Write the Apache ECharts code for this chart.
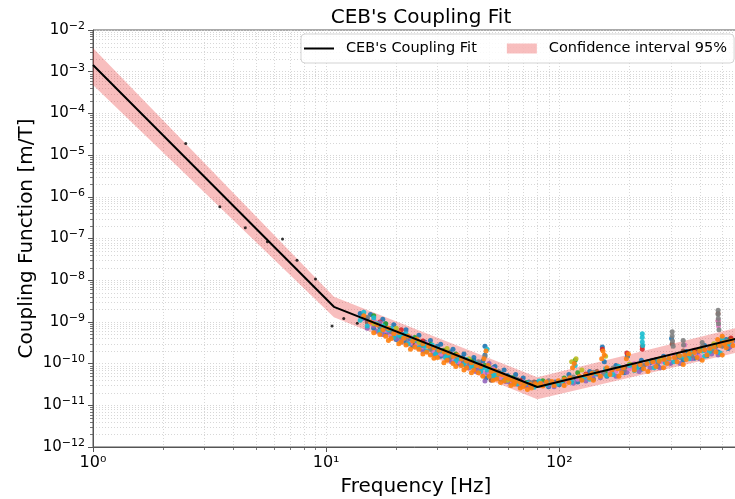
<!DOCTYPE html>
<html><head><meta charset="utf-8">
<script src="https://cdn.jsdelivr.net/npm/echarts@6/dist/echarts.min.js"></script>
<style>html,body{margin:0;padding:0;background:#fff}#c{width:735px;height:499px}</style>
</head><body><div id="c"></div>
<script>
// ---- data ----
const fitFreq = [1, 10.8, 80.5, 590];
const fitValue = [1.45e-3, 2.3e-9, 2.75e-11, 4.1e-10];
const bandFreq = [1, 10.8, 80.5, 590];
const bandUpper = [3.7e-3, 4.0e-9, 4.7e-11, 7.4e-10];
const bandLower = [4.8e-4, 1.3e-9, 1.4e-11, 1.9e-10];

const blackPoints = [[2.5,1.9e-5],[3.5,5.8e-7],[4.5,1.8e-7],[5.6,8.3e-8],[6.5,9.7e-8],[7.5,3e-8],[9,1.07e-8],[10.6,8e-10],[11.9,1.2e-9],[13.6,9.3e-10]];

const orangePoints = [[14.5,1.4e-9],[15.5,1.0e-9],[16.5,8.5e-10],[17.5,6.5e-10],[18.5,7e-10],[19.5,5.2e-10],[20.5,5.6e-10],[21.5,4.1e-10],[22.5,4.6e-10],[23.5,3.5e-10],[24.5,3.9e-10],[26,3e-10],[27.5,2.6e-10],[29,2.4e-10],[30.5,2.1e-10],[32,1.9e-10],[33.5,1.8e-10],[35,1.5e-10],[36.5,1.6e-10],[38,1.3e-10],[40,1.15e-10],[42,1.05e-10],[44,9e-11],[46,8.5e-11],[47.5,1.3e-10],[48.5,2e-10],[49.5,9e-11],[51,6.5e-11],[53,6.8e-11],[55,5.6e-11],[57,5.4e-11],[59,4.6e-11],[61,4.4e-11],[63,4e-11],[65,3.7e-11],[68,3.5e-11],[71,3.3e-11],[75,3.2e-11],[79,3.3e-11],[83,3.4e-11],[88,3.6e-11],[93,3.7e-11],[99,3.9e-11],[105,4.2e-11],[111,4.6e-11],[114,8e-11],[116,1e-10],[122,5e-11],[130,5.3e-11],[138,5.8e-11],[146,6e-11],[152,1.3e-10],[154,2e-10],[156,1.6e-10],[160,8e-11],[168,7e-11],[178,7.5e-11],[188,8e-11],[194,1.3e-10],[198,1.7e-10],[210,8.8e-11],[222,9.5e-11],[238,1e-10],[252,1.1e-10],[268,1.15e-10],[282,1.25e-10],[296,1.35e-10],[312,1.4e-10],[328,1.55e-10],[345,1.6e-10],[362,1.75e-10],[380,1.85e-10],[400,2e-10],[420,2.15e-10],[442,2.3e-10],[462,2.5e-10],[478,3.8e-10],[486,2.7e-10],[500,4.5e-10],[506,3.2e-10],[512,2.9e-10],[530,3.3e-10],[550,3.6e-10],
  [17,5e-10],[18,4.5e-10],[19,4e-10],[21,3.3e-10],[22,2.8e-10],[24,2.5e-10],[25,2.2e-10],[27,1.9e-10],[28,1.6e-10],[30,1.4e-10],[33,1.2e-10],[35,1e-10],[38,9e-11],[40,8e-11],[43,7e-11],[45,6e-11],[50,5e-11],[54,4.3e-11],[58,3.8e-11],[64,3.2e-11],[70,2.8e-11],[76,2.6e-11],[85,2.9e-11],[95,3e-11],[110,3.5e-11],[125,4e-11],[135,4.5e-11],[150,5e-11],[165,5.5e-11],[185,6e-11],[210,7e-11],[230,7.5e-11],[260,8.5e-11],[290,1e-10],[320,1.1e-10],[350,1.25e-10],[390,1.4e-10],[430,1.6e-10],[470,1.9e-10],[520,2.4e-10],[556,2.7e-10],
  [16,5.5e-10],[18.5,3.6e-10],[20.5,3e-10],[23,2.2e-10],[26,1.7e-10],[29,1.35e-10],[32,1.05e-10],[36,8.5e-11],[39,7e-11],[42,6e-11],[47,5e-11],[52,4e-11],[56,3.5e-11],[62,3e-11],[68,2.6e-11],[73,2.4e-11],[105,3e-11],[140,4e-11],[180,5e-11],[240,6.5e-11],[280,8e-11],[340,9.5e-11],[410,1.2e-10],[500,1.6e-10]];
const bluePoints = [[14,1.6e-9],[15,1.2e-9],[16,1.1e-9],[17,7.5e-10],[18,9e-10],[19,6e-10],[20,4.5e-10],[21.5,5e-10],[23,3.8e-10],[24.5,3.3e-10],[26.5,3.3e-10],[28,2.5e-10],[30,2.6e-10],[32,1.7e-10],[34,1.9e-10],[36,1.35e-10],[38.5,1.4e-10],[41,1e-10],[43,1.2e-10],[45.5,9.5e-11],[48,2.6e-10],[48,1.6e-10],[48.5,4.5e-11],[50,7e-11],[52,8e-11],[54,6e-11],[57,4.8e-11],[60,5.2e-11],[64,4.2e-11],[69,3.5e-11],[74,3.6e-11],[80,3.5e-11],[87,3.3e-11],[96,3.6e-11],[106,4e-11],[118,4.4e-11],[132,5e-11],[145,5.6e-11],[153,2.5e-10],[156,1.1e-10],[170,7.2e-11],[186,8e-11],[196,1.5e-10],[215,8.5e-11],[245,1.05e-10],[275,1.2e-10],[303,4e-10],[320,1.45e-10],[355,1.65e-10],[392,1.9e-10],[415,2.5e-10],[440,2.3e-10],[470,2.6e-10],[495,3e-10],[525,3.2e-10],[555,3.5e-10],
  [16,7e-10],[18,5.5e-10],[20,3.8e-10],[22,3.2e-10],[23.5,2.7e-10],[26,2.2e-10],[29,1.8e-10],[31,1.5e-10],[34,1.25e-10],[37,1.05e-10],[40,9e-11],[44,7.5e-11],[50,5.5e-11],[56,4.2e-11],[62,3.5e-11],[72,3e-11],[90,2.8e-11],[100,3.1e-11],[120,3.6e-11],[140,4.3e-11],[160,5e-11],[190,6e-11],[225,7.3e-11],[265,8.5e-11],[300,1.05e-10],[340,1.2e-10],[380,1.35e-10],[430,1.55e-10],[480,1.9e-10],[530,2.3e-10],
  [15.5,1.5e-9],[17.5,1.15e-9],[19.5,8.5e-10],[22,6.5e-10],[25,4.8e-10],[28,3.6e-10],[31,2.9e-10],[35,2.2e-10],[39,1.7e-10],[43,1.4e-10],[47,1.15e-10],[53,8.5e-11],[58,7e-11],[65,5.5e-11],[70,4.5e-11],[110,5.5e-11],[135,6.5e-11],[175,9e-11],[225,1.2e-10],[280,1.5e-10],[350,1.95e-10],[420,2.7e-10],[520,3.8e-10]];
const cyanPoints = [[14.5,1.7e-9],[16,1.25e-9],[17.5,8e-10],[19,7e-10],[20.5,4.8e-10],[22,5.2e-10],[24,3.6e-10],[26,2.9e-10],[28.5,2.8e-10],[31,2e-10],[34,1.6e-10],[37,1.45e-10],[40,1.25e-10],[44,1e-10],[47,8e-11],[49,2.2e-10],[52,6e-11],[56,5.8e-11],[61,4.8e-11],[67,3.8e-11],[73,3.4e-11],[82,3.8e-11],[92,3.4e-11],[103,3.8e-11],[117,9e-11],[128,4.8e-11],[143,5.8e-11],[158,7.5e-11],[180,8.5e-11],[200,9e-11],[227,5.2e-10],[227,4.2e-10],[227,3.3e-10],[228,2.7e-10],[240,1.1e-10],[265,1.2e-10],[295,1.3e-10],[330,1.5e-10],[370,1.8e-10],[410,2e-10],[455,2.4e-10],[500,3.9e-10],[540,3.4e-10],
  [15,8e-10],[17,6e-10],[19.5,4.2e-10],[22.5,3e-10],[25,2.4e-10],[27,2e-10],[29.5,1.7e-10],[32.5,1.4e-10],[36,1.15e-10],[39,9.5e-11],[42,8.5e-11],[46,6.5e-11],[52,4.8e-11],[58,4e-11],[66,3.3e-11],[78,2.7e-11],[98,3.3e-11],[113,3.6e-11],[135,4.2e-11],[170,5.5e-11],[210,6.8e-11],[255,8e-11],[310,1.1e-10],[360,1.3e-10],[420,1.5e-10],[490,1.8e-10],
  [14,1.1e-9],[16.5,9e-10],[18.5,6.5e-10],[21,4.8e-10],[23.5,3.9e-10],[26.5,2.6e-10],[30,2.3e-10],[33,1.6e-10],[37.5,1.3e-10],[43,9e-11],[49,7e-11],[54,5.4e-11],[63,4.3e-11],[71,3.3e-11],[88,3.1e-11],[125,4.1e-11],[160,5.2e-11],[215,8e-11],[285,1.05e-10],[345,1.35e-10],[440,1.9e-10],[530,2.9e-10]];
const purplePoints = [[14.5,1.2e-9],[16,8e-10],[17,9.5e-10],[18.5,5.5e-10],[20,6e-10],[21,3.6e-10],[23,4.2e-10],[25,2.7e-10],[27,2.8e-10],[30,1.9e-10],[33,1.6e-10],[36,1.25e-10],[39,1.2e-10],[42,9e-11],[46,7.5e-11],[48,3.8e-11],[50,1e-10],[53,5.6e-11],[58,4.5e-11],[62,3.9e-11],[66,3.2e-11],[72,3e-11],[77,3e-11],[85,3.2e-11],[95,3.4e-11],[110,4.1e-11],[125,4.6e-11],[140,5.2e-11],[165,6.8e-11],[185,7e-11],[205,8.5e-11],[235,9.5e-11],[260,1.1e-10],[290,1.2e-10],[315,1.3e-10],[350,1.55e-10],[390,1.75e-10],[425,2e-10],[465,2.2e-10],[510,2.8e-10],
  [16.5,6e-10],[19,4.5e-10],[21,3.3e-10],[23.5,3e-10],[26,2e-10],[28.5,2.1e-10],[31.5,1.6e-10],[34.5,1.1e-10],[38,1e-10],[41,8e-11],[45,7e-11],[49,6e-11],[55,4.6e-11],[61,3.6e-11],[68,3e-11],[75,2.8e-11],[90,3e-11],[115,3.4e-11],[150,4.6e-11],[195,6.2e-11],[245,8e-11],[300,1e-10],[370,1.3e-10],[450,1.7e-10],[540,2.5e-10],
  [15,7e-10],[17.5,5e-10],[20,4e-10],[22.5,3.1e-10],[25.5,2.3e-10],[29,1.7e-10],[33,1.25e-10],[37,1e-10],[41,8.5e-11],[44,6.5e-11],[53,4.4e-11],[59,3.7e-11],[95,2.8e-11],[130,3.8e-11],[175,5e-11],[220,6.5e-11],[270,8e-11],[330,1e-10],[400,1.3e-10],[480,1.6e-10]];
const grayPoints = [[15,1.3e-9],[17,8e-10],[19,5.8e-10],[22,4e-10],[25,3.4e-10],[28,2.2e-10],[32,2e-10],[36,1.5e-10],[41,1.05e-10],[45,1.1e-10],[48,1.5e-10],[51,5e-11],[55,6.5e-11],[60,4.2e-11],[66,4.2e-11],[75,3.5e-11],[90,3.9e-11],[115,4.8e-11],[140,6.2e-11],[170,7.8e-11],[205,9.5e-11],[250,1.2e-10],[280,1.4e-10],[305,5.8e-10],[305,4.6e-10],[306,3.5e-10],[308,2.6e-10],[340,3.6e-10],[341,2.8e-10],[410,3.2e-10],[412,2.6e-10],[480,1.9e-9],[480,1.5e-9],[481,1.2e-9],[482,9e-10],[484,6.5e-10],[520,3.5e-10],
  [18,7e-10],[21,5e-10],[26,2.7e-10],[30,2e-10],[34,1.4e-10],[39,1.1e-10],[43,8e-11],[53,5.2e-11],[64,3.5e-11],[82,3e-11],[100,3.5e-11],[125,4.5e-11],[155,5.8e-11],[190,7e-11],[230,9e-11],[265,1.05e-10],[330,1.4e-10],[370,1.55e-10],[450,2e-10],[500,2.6e-10]];
const pinkPoints = [[15.5,9e-10],[18,6.2e-10],[20,5.2e-10],[23,3.1e-10],[26,2.5e-10],[29,2e-10],[33,1.35e-10],[37,1.1e-10],[42,8.5e-11],[47,6e-11],[52,7.5e-11],[58,5e-11],[63,3.5e-11],[70,3.6e-11],[78,2.9e-11],[95,3.2e-11],[120,4.2e-11],[150,6e-11],[175,6.5e-11],[210,1e-10],[240,1e-10],[275,1.1e-10],[310,1.6e-10],[345,2.8e-10],[380,1.7e-10],[430,2.1e-10],[480,1.1e-9],[482,8e-10],[500,2.8e-10],[550,3.2e-10],
  [16,1.1e-9],[19,5e-10],[22,4.4e-10],[24.5,2.8e-10],[27,3e-10],[31,1.7e-10],[35,1.35e-10],[40,1.05e-10],[44,9e-11],[50,6e-11],[56,4.6e-11],[67,3.4e-11],[85,3e-11],[108,3.7e-11],[135,4.6e-11],[165,6e-11],[200,7.5e-11],[255,1e-10],[295,1.2e-10],[400,1.5e-10],[460,2.1e-10]];
const greenPoints = [[16,1.4e-9],[18,9e-10],[21,4.4e-10],[24,4.2e-10],[28,2.9e-10],[32,2.1e-10],[36,1.7e-10],[42,1.15e-10],[48,9e-11],[55,5e-11],[63,4.6e-11],[72,3.5e-11],[85,3.9e-11],[105,4.5e-11],[117,1.2e-10],[120,6e-11],[160,6.6e-11],[200,9.2e-11],[250,1.15e-10],[320,1.5e-10],[400,2.2e-10],[470,2.8e-10],[540,3.9e-10]];
const redPoints = [[17,1e-9],[21,6.5e-10],[26,3.5e-10],[31,1.8e-10],[38,1.15e-10],[46,9e-11],[55,5.3e-11],[68,4e-11],[92,3.5e-11],[130,5.6e-11],[153,2.2e-10],[195,1.8e-10],[227,2.6e-10],[227,2.2e-10],[280,1.3e-10],[380,2.1e-10],[490,3e-10],[545,4.1e-10]];
const brownPoints = [[15,1e-9],[19,6.4e-10],[24,3e-10],[30,2.3e-10],[37,1.3e-10],[45,1e-10],[51,4e-11],[62,4.3e-11],[78,3.6e-11],[105,3.7e-11],[145,6.5e-11],[195,8.5e-11],[260,1.25e-10],[305,3e-10],[340,2e-10],[480,1.6e-9],[480,1.05e-9],[500,3.5e-10]];
const olivePoints = [[16,9e-10],[20,7e-10],[25,3.2e-10],[33,2.3e-10],[41,1.3e-10],[50,8e-11],[60,4e-11],[80,3e-11],[113,1.1e-10],[118,1.3e-10],[125,7e-11],[158,1.5e-10],[200,9.8e-11],[270,1.3e-10],[360,1.7e-10],[460,3e-10]];

const titleText = "CEB's Coupling Fit";
const fitName = "CEB's Coupling Fit";
const bandName = 'Confidence interval 95%';
const xTitle = 'Frequency [Hz]';
const yTitle = 'Coupling Function [m/T]';
const xRange = [1, 590];
const yRange = [1e-12, 1e-2];

// ---- styling ----
const FONT = 'DejaVu Sans';
const bandColor = 'rgba(232,40,40,0.3)';
const gridColor = '#cdcdcd';
const spineColor = '#555';

const scatterSets = [
  [bluePoints, '#1f77b4'], [greenPoints, '#2ca02c'], [redPoints, '#d62728'],
  [purplePoints, '#9467bd'], [brownPoints, '#8c564b'], [pinkPoints, '#e377c2'],
  [grayPoints, '#7f7f7f'], [olivePoints, '#bcbd22'], [cyanPoints, '#17becf'],
  [orangePoints, '#ff7f0e']
];

const xMinor = [];
for (const d of [1, 10, 100]) for (let m = 2; m <= 9; m++) { if (m * d < xRange[1]) xMinor.push(m * d); }
const yMinor = [];
for (let e = -12; e < -2; e++) for (let m = 2; m <= 9; m++) yMinor.push(m * Math.pow(10, e));

const SUP = { '0': '\u2070', '1': '\u00b9', '2': '\u00b2', '3': '\u00b3', '4': '\u2074', '5': '\u2075', '6': '\u2076', '7': '\u2077', '8': '\u2078', '9': '\u2079', '-': '\u207b' };
function powPlain(v) {
  const l = Math.log10(v), e = Math.round(l);
  if (Math.abs(l - e) > 1e-6) return '';
  return '10' + String(e).split('').map(c => SUP[c]).join('');
}
function powLabel(v) {
  const l = Math.log10(v), e = Math.round(l);
  if (Math.abs(l - e) > 1e-6) return '';
  return '{b|10}{e|' + (e < 0 ? '\u2212' : '') + Math.abs(e) + '}';
}
const richLbl = {
  b: { fontSize: 15, lineHeight: 20, fontFamily: FONT, color: '#000' },
  e: { fontSize: 11, lineHeight: 11, padding: [0, 0, 8, 0], fontFamily: FONT, color: '#000' }
};

const chart = echarts.init(document.getElementById('c'), null, { renderer: 'canvas' });

const series = [];
series.push({
  type: 'custom', silent: true, z: 0, clip: false,
  data: xMinor.map(v => [v, 1e-7]),
  renderItem: (params, api) => {
    const cs = params.coordSys;
    const x = Math.round(api.coord([api.value(0), 1e-7])[0]) + 0.5;
    return { type: 'group', children: [
      { type: 'line', shape: { x1: x, y1: cs.y, x2: x, y2: cs.y + cs.height }, style: { stroke: gridColor, lineWidth: 0.8, lineDash: [1, 2] } },
      { type: 'line', shape: { x1: x, y1: cs.y + cs.height, x2: x, y2: cs.y + cs.height + 3 }, style: { stroke: spineColor, lineWidth: 0.8 } }
    ]};
  }
});
series.push({
  type: 'custom', silent: true, z: 0, clip: false,
  data: yMinor.map(v => [2, v]),
  renderItem: (params, api) => {
    const cs = params.coordSys;
    const y = Math.round(api.coord([2, api.value(1)])[1]) + 0.5;
    return { type: 'group', children: [
      { type: 'line', shape: { x1: cs.x, y1: y, x2: cs.x + cs.width, y2: y }, style: { stroke: gridColor, lineWidth: 0.8, lineDash: [1, 2] } },
      { type: 'line', shape: { x1: cs.x - 3, y1: y, x2: cs.x, y2: y }, style: { stroke: spineColor, lineWidth: 0.8 } }
    ]};
  }
});
series.push({
  type: 'custom', name: bandName, silent: true, z: 1,
  itemStyle: { color: bandColor },
  data: [[bandFreq[0], bandUpper[0]]],
  renderItem: (params, api) => {
    const pts = [];
    for (let i = 0; i < bandFreq.length; i++) pts.push(api.coord([bandFreq[i], bandUpper[i]]));
    for (let i = bandFreq.length - 1; i >= 0; i--) pts.push(api.coord([bandFreq[i], bandLower[i]]));
    return { type: 'polygon', shape: { points: pts }, style: { fill: bandColor } };
  }
});
series.push({ type: 'scatter', data: blackPoints, symbolSize: 3, itemStyle: { color: '#000' }, silent: true, z: 3 });
scatterSets.forEach(([pts, col]) => {
  series.push({ type: 'scatter', data: pts, symbolSize: 5, itemStyle: { color: col, opacity: 0.9 }, silent: true, z: 3 });
});
series.push({
  type: 'line', name: fitName, data: fitFreq.map((f, i) => [f, fitValue[i]]),
  symbol: 'none', lineStyle: { color: '#000', width: 2 }, itemStyle: { color: '#000' }, z: 5, silent: true
});

chart.setOption({
  animation: false,
  textStyle: { fontFamily: FONT },
  title: {
    text: titleText, left: 416, top: 3, textAlign: 'center',
    textStyle: { fontFamily: FONT, fontSize: 20, fontWeight: 'normal', color: '#000' }
  },
  legend: {
    left: 301, top: 34, orient: 'horizontal',
    backgroundColor: 'rgba(255,255,255,0.85)', borderColor: '#d3d3d3', borderWidth: 1, borderRadius: 4,
    padding: [7, 7, 7, 3], itemGap: 30, itemWidth: 30, itemHeight: 10,
    textStyle: { fontFamily: FONT, fontSize: 14.5, color: '#000', padding: [0, 0, 0, 7] },
    data: [
      { name: fitName, icon: 'path://M0,0L0.01,0L0,0.01Z M0,10L0.01,10L0,9.99Z M0,4L30,4L30,6L0,6Z', itemStyle: { color: '#000' } },
      { name: bandName, icon: 'rect', itemStyle: { color: bandColor } }
    ]
  },
  grid: { left: 93, top: 30, bottom: 52, right: -4, show: true, borderColor: spineColor, borderWidth: 1, backgroundColor: 'transparent', containLabel: false, outerBoundsMode: 'none' },
  xAxis: {
    type: 'log', logBase: 10, min: xRange[0], max: xRange[1],
    name: xTitle, nameLocation: 'middle', nameGap: 30, nameMoveOverlap: false,
    nameTextStyle: { fontFamily: FONT, fontSize: 20, color: '#000' },
    axisLine: { show: true, lineStyle: { color: spineColor, width: 1 } },
    axisTick: { show: true, length: 5, lineStyle: { color: spineColor } },
    axisLabel: { margin: 8, formatter: powPlain, fontFamily: FONT, fontSize: 16, color: '#000', hideOverlap: false },
    splitLine: { show: true, lineStyle: { color: gridColor, width: 0.8, type: [1, 2] } },
    minorTick: { show: false }
  },
  yAxis: {
    type: 'log', logBase: 10, min: yRange[0], max: yRange[1], splitNumber: 10,
    name: yTitle, nameLocation: 'middle', nameGap: 56, nameRotate: 90, nameMoveOverlap: false,
    nameTextStyle: { fontFamily: FONT, fontSize: 20, color: '#000' },
    axisLine: { show: true, lineStyle: { color: spineColor, width: 1 } },
    axisTick: { show: true, length: 5, lineStyle: { color: spineColor } },
    axisLabel: { margin: 8, formatter: powLabel, rich: richLbl },
    splitLine: { show: true, lineStyle: { color: gridColor, width: 0.8, type: [1, 2] } }
  },
  series: series
});
</script></body></html>
